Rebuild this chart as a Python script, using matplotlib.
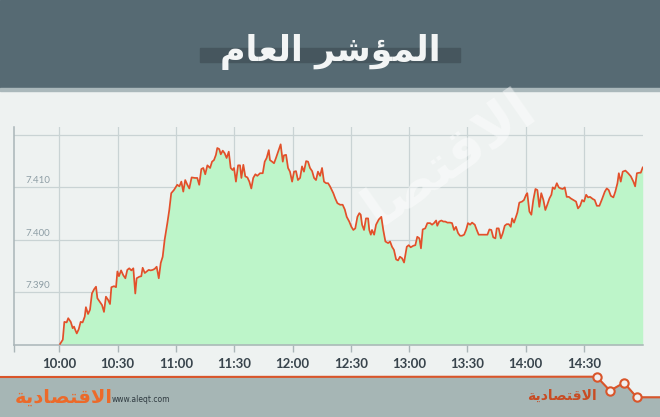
import matplotlib
matplotlib.use('Agg')
import matplotlib.pyplot as plt
from matplotlib.patches import Rectangle, Polygon
from matplotlib.lines import Line2D
import matplotlib.transforms as mtrans

# --- data -------------------------------------------------------------
title = 'المؤشر العام'
brand = 'الاقتصادية'
site = 'www.aleqt.com'

time_labels = ['10:00', '10:30', '11:00', '11:30', '12:00',
               '12:30', '13:00', '13:30', '14:00', '14:30']
y_ticks = [7390, 7400, 7410]

# minutes after 10:00
minutes = [
    0.4, 1.8, 2.6, 3.8, 4.6, 5.9, 6.9, 7.6, 8.2, 9.0,
    10.0, 11.0, 12.0, 13.1, 13.7, 14.8, 15.8, 16.8, 17.9, 18.9,
    19.6, 20.9, 22.0, 23.0, 24.0, 25.1, 26.1, 26.8, 28.2, 29.2,
    29.9, 30.7, 31.8, 32.9, 34.0, 35.0, 36.0, 37.1, 38.1, 39.1,
    39.8, 41.2, 42.2, 42.9, 44.0, 45.0, 46.0, 47.0, 48.1, 49.1,
    50.1, 51.2, 52.2, 53.2, 54.2, 55.6, 56.6, 57.6, 59.0,
    60.7, 61.8, 62.8, 63.8, 64.8, 65.9, 66.9, 68.1, 69.8, 71.0,
    72.0, 73.1, 74.1, 75.1, 76.2, 77.6, 78.6, 79.6, 80.6, 81.3,
    82.3, 83.1, 84.1, 85.1, 86.1, 87.2, 88.2, 89.2, 89.9, 90.9,
    92.0, 93.0, 93.7, 94.7, 95.7, 96.8, 97.8, 98.8, 99.8, 100.9,
    101.9, 103.3, 104.7, 105.7, 106.7, 107.8, 108.4, 109.5, 110.5, 111.5,
    112.9, 113.9, 115.0, 115.6, 116.7, 117.7, 118.7, 119.8, 120.8, 121.8,
    122.8, 123.9, 124.9, 125.9, 127.0, 128.0, 129.0, 130.1, 131.1, 132.1,
    133.1, 134.2, 135.2, 136.2, 137.3, 138.3, 139.3,
    141.0, 142.0, 143.1, 144.5, 145.8, 146.9, 147.9, 149.2, 150.3, 151.3,
    152.3, 153.4, 154.4, 155.1, 155.8, 156.8, 157.8, 158.9, 159.5, 160.3,
    160.9, 162.0, 163.0, 164.4, 165.7, 166.7, 167.8, 169.2, 170.2, 171.2,
    172.2, 173.3, 174.3, 175.3, 176.4, 177.4, 178.8, 179.8, 180.8, 182.2,
    183.2, 184.2, 185.3, 186.1, 187.0, 188.3, 189.4, 190.8, 191.8, 192.8,
    193.9, 194.5, 195.5, 196.6, 197.6, 198.6, 199.7, 201.1, 202.1, 203.1,
    204.1, 205.2, 206.2, 207.2, 208.3, 209.3, 210.3, 211.4, 212.4, 213.8,
    214.8, 215.8,
    216.5, 218.2, 220.3, 221.3, 222.3, 223.3, 224.4, 225.1, 226.1, 227.2,
    228.2, 229.2, 230.2, 231.3, 232.3, 233.0, 234.0, 235.0, 235.7, 236.7,
    238.1, 239.1, 240.2, 240.8, 241.9, 242.9, 243.9, 245.0, 246.0, 247.0,
    248.0, 249.1, 250.1, 251.1, 252.2, 253.2, 253.9, 254.9, 256.0, 257.0,
    258.0, 259.1, 260.1, 261.1, 262.2, 263.2, 264.5, 265.9, 266.9, 268.0,
    269.0, 270.0, 271.1, 272.1, 273.1, 274.5, 275.5, 276.6, 277.9, 279.3,
    280.7, 281.7, 282.7, 283.8, 285.1, 286.1, 287.2, 287.9, 288.9, 289.9,
    291.3, 292.7, 294.1, 295.4, 296.3, 297.2, 298.5, 299.2, 300.2,
]

index_values = [
    7380.2, 7381.0, 7384.4, 7384.3, 7385.1, 7384.4, 7383.2, 7383.5, 7382.9, 7382.2,
    7383.0, 7384.4, 7384.3, 7385.4, 7387.2, 7385.9, 7386.7, 7389.8, 7390.6, 7391.1,
    7388.9, 7388.2, 7387.6, 7386.3, 7389.2, 7388.6, 7387.8, 7391.0, 7391.2, 7391.0,
    7394.0, 7393.1, 7394.2, 7393.3, 7392.7, 7394.3, 7394.6, 7394.2, 7394.6, 7389.8,
    7392.7, 7393.0, 7393.1, 7394.7, 7393.7, 7394.0, 7394.3, 7394.2, 7394.3, 7394.5,
    7394.9, 7392.7, 7395.6, 7396.8, 7400.0, 7403.2, 7405.7, 7408.9, 7409.5,
    7410.5, 7410.2, 7411.1, 7409.2, 7411.4, 7410.5, 7409.8, 7411.9, 7411.8, 7411.8,
    7410.5, 7413.5, 7413.7, 7412.5, 7414.2, 7413.7, 7414.9, 7415.2, 7416.2, 7417.5,
    7417.3, 7416.3, 7417.0, 7416.5, 7415.6, 7416.8, 7413.7, 7413.3, 7413.7, 7411.1,
    7414.2, 7414.2, 7411.8, 7414.3, 7412.1, 7411.9, 7411.1, 7409.8, 7411.8, 7412.5,
    7412.2, 7412.7, 7412.7, 7414.9, 7415.6, 7417.1, 7415.2, 7414.9, 7414.6, 7415.6,
    7417.1, 7418.2, 7414.9, 7416.1, 7416.2, 7413.7, 7413.0, 7411.1, 7413.0, 7413.1,
    7411.4, 7411.8, 7414.0, 7413.0, 7415.0, 7414.9, 7413.7, 7413.1, 7411.8, 7411.4,
    7413.0, 7412.2, 7413.7, 7411.1, 7410.8, 7410.8, 7410.2,
    7408.9, 7407.9, 7407.0, 7406.7, 7406.7, 7405.8, 7404.4, 7403.5, 7402.5, 7401.9,
    7402.2, 7404.4, 7405.1, 7404.8, 7402.9, 7401.9, 7404.1, 7404.1, 7401.9, 7401.0,
    7401.9, 7401.0, 7402.9, 7403.9, 7404.4, 7401.9, 7399.7, 7399.4, 7399.7, 7398.7,
    7398.1, 7396.3, 7396.1, 7396.8, 7396.5, 7395.7, 7398.7, 7399.0, 7398.6, 7398.9,
    7399.0, 7400.6, 7400.3, 7398.4, 7402.0, 7402.2, 7403.2, 7403.2, 7402.9, 7403.2,
    7403.7, 7402.7, 7403.5, 7403.7, 7403.5, 7403.5, 7403.3, 7403.3, 7403.2, 7401.9,
    7402.5, 7401.3, 7400.8, 7400.8, 7401.0, 7401.9, 7403.2, 7402.9, 7403.3, 7402.9,
    7401.9, 7401.0,
    7401.0, 7401.0, 7401.0, 7402.0, 7401.9, 7400.5, 7400.3, 7402.2, 7402.2, 7400.3,
    7401.3, 7402.7, 7403.0, 7403.0, 7402.5, 7404.1, 7403.3, 7404.4, 7405.2, 7407.1,
    7407.3, 7407.6, 7408.6, 7408.9, 7405.4, 7404.8, 7407.6, 7409.7, 7409.5, 7406.3,
    7408.9, 7407.6, 7405.7, 7406.7, 7407.9, 7408.6, 7410.0, 7409.7, 7410.8, 7410.0,
    7409.8, 7409.7, 7410.0, 7408.2, 7408.2, 7407.9, 7407.6, 7407.3, 7406.0, 7406.5,
    7407.6, 7407.3, 7408.6, 7408.1, 7408.2, 7407.8, 7407.6, 7406.5, 7406.5, 7407.8,
    7409.2, 7409.8, 7409.5, 7408.4, 7408.1, 7409.2, 7410.8, 7412.7, 7411.1, 7413.0,
    7413.2, 7412.7, 7412.1, 7411.1, 7410.2, 7412.7, 7412.8, 7412.8, 7413.8,
]

# --- colours ----------------------------------------------------------
BG = '#eef2f1'
HEADER = '#566a73'
LINE = '#e2502a'
FILL = '#bdf5c9'
GRID = '#c9d3d4'
FOOTER = '#a6b6b5'
ORANGE = '#ec6a2a'

# --- tiny arabic shaper (matplotlib has no complex text layout) -------
# letter: (isolated, final, initial, medial); right-joining ones have 2 forms
FORMS = {
    'ا': (0xFE8D, 0xFE8E), 'ؤ': (0xFE85, 0xFE86), 'ر': (0xFEAD, 0xFEAE),
    'د': (0xFEA9, 0xFEAA), 'ة': (0xFE93, 0xFE94), 'LA': (0xFEFB, 0xFEFC),
    'ل': (0xFEDD, 0xFEDE, 0xFEDF, 0xFEE0), 'م': (0xFEE1, 0xFEE2, 0xFEE3, 0xFEE4),
    'ش': (0xFEB5, 0xFEB6, 0xFEB7, 0xFEB8), 'ع': (0xFEC9, 0xFECA, 0xFECB, 0xFECC),
    'ق': (0xFED5, 0xFED6, 0xFED7, 0xFED8), 'ت': (0xFE95, 0xFE96, 0xFE97, 0xFE98),
    'ص': (0xFEB9, 0xFEBA, 0xFEBB, 0xFEBC), 'ي': (0xFEF1, 0xFEF2, 0xFEF3, 0xFEF4),
}


def shape(text):
    toks = []
    i = 0
    while i < len(text):
        if text[i] == 'ل' and i + 1 < len(text) and text[i + 1] == 'ا':
            toks.append('LA')
            i += 2
        else:
            toks.append(text[i])
            i += 1
    out = []
    for k, t in enumerate(toks):
        if t not in FORMS:
            out.append(t)
            continue
        prev = toks[k - 1] if k > 0 else None
        nxt = toks[k + 1] if k + 1 < len(toks) else None
        jp = prev in FORMS and len(FORMS[prev]) == 4
        jn = len(FORMS[t]) == 4 and nxt in FORMS
        f = FORMS[t]
        if jp and jn:
            out.append(chr(f[3]))
        elif jp:
            out.append(chr(f[1]))
        elif jn:
            out.append(chr(f[2]))
        else:
            out.append(chr(f[0]))
    return ''.join(reversed(out))


W, H = 660, 417


def fx(px):
    return px / W


def fy(py):
    return 1 - py / H


fig = plt.figure(figsize=(6.6, 4.17), dpi=100)
fig.patch.set_facecolor(BG)

# header
fig.add_artist(Rectangle((0, fy(88)), 1, 88 / H, transform=fig.transFigure,
                         color=HEADER, zorder=0))
fig.add_artist(Rectangle((0, fy(91)), 1, 3 / H, transform=fig.transFigure,
                         color='#aab8bb', zorder=0))
fig.add_artist(Rectangle((fx(200), fy(62)), 260 / W, 14 / H,
                         transform=fig.transFigure, color='#46565e', zorder=1))
fig.text(0.5, fy(52), shape(title), ha='center', va='center', fontsize=25,
         weight='bold', color='#f3f5f5', family='DejaVu Sans', zorder=2)

# chart
ax = fig.add_axes([fx(14), fy(345), fx(643.3) - fx(14), (345 - 127) / H])
ax.set_facecolor('none')
ax.fill_between(minutes, index_values, 7380, color=FILL, lw=0, zorder=2)
ax.plot(minutes, index_values, color=LINE, lw=1.25, zorder=3)

xticks = [30 * i for i in range(len(time_labels))]
ax.set_xlim(-23.3, 300.5)
ax.set_ylim(7380, 7421.5)
ax.set_xticks(xticks)
ax.set_xticklabels(time_labels, fontsize=9.5, weight='bold', color='#38444c',
                   family='Lato')
ax.set_xticks([-23.3], minor=True)
ax.set_yticks([])
ax.tick_params(axis='x', which='both', length=5, width=1, color='#aab5b8', pad=4)

for xt in xticks:
    ax.axvline(xt, color=GRID, lw=0.9, zorder=1)
for yv in [7390, 7400, 7410, 7420]:
    ax.axhline(yv, color=GRID, lw=0.9, zorder=1)

lbl_tr = mtrans.blended_transform_factory(ax.transAxes, ax.transData)
for yv in y_ticks:
    s = f'{yv:,}'.replace(',', '.')
    ax.text(0.0575, yv + 0.4, s, transform=lbl_tr, ha='right', va='bottom',
            fontsize=7, color='#8e9ea5', family='Lato', zorder=4)

for s in ['top', 'right']:
    ax.spines[s].set_visible(False)
for s in ['left', 'bottom']:
    ax.spines[s].set_color('#aab5b8')
    ax.spines[s].set_linewidth(1.1)

# watermark
ax.text(0.64, 0.74, shape(brand), transform=ax.transAxes, rotation=35,
        ha='center', va='center', fontsize=40, weight='bold', color='white',
        alpha=0.45, family='DejaVu Sans', zorder=1.5)

# footer
zig_x = [0, 596.7, 610, 624, 636.7, 660]
zig_y = [377, 376.7, 390.7, 382.7, 397.3, 397.3]
pts = [(fx(a), fy(b)) for a, b in zip(zig_x, zig_y)] + [(1, 0), (0, 0)]
fig.add_artist(Polygon(pts, closed=True, transform=fig.transFigure,
                       color=FOOTER, zorder=0))
fig.add_artist(Line2D([fx(a) for a in zig_x], [fy(b) for b in zig_y],
                      transform=fig.transFigure, color='#d9552a', lw=1.5,
                      zorder=1))
fig.add_artist(Line2D([fx(a) for a in zig_x[1:5]], [fy(b) for b in zig_y[1:5]],
                      transform=fig.transFigure, ls='none', marker='o',
                      ms=6, mfc='#f1eeee', mec='#d9552a', mew=1.5, zorder=2))

fig.text(fx(15), fy(397), shape(brand), ha='left', va='center', fontsize=14,
         weight='bold', color=ORANGE, family='DejaVu Sans', zorder=2)
fig.text(fx(112), fy(399), site, ha='left', va='center', fontsize=5.5,
         color='#2f3a40', zorder=1)
fig.text(fx(562), fy(396), shape(brand), ha='center', va='center', fontsize=10,
         weight='bold', color='#c84c24', family='DejaVu Sans', zorder=2)

fig.savefig('out.png', dpi=100, facecolor=BG)
